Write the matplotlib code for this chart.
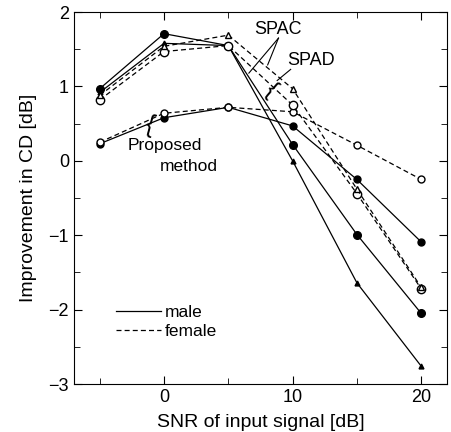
import matplotlib
matplotlib.use("Agg")
import matplotlib.pyplot as plt
from matplotlib.ticker import MultipleLocator

plt.rcParams['font.family'] = ['Liberation Sans', 'DejaVu Sans']

snr = [-5, 0, 5, 10, 15, 20]

# male (solid)
prop_male = [0.23, 0.58, 0.72, 0.47, -0.25, -1.09]
spa1_male = [0.97, 1.71, 1.55, 0.22, -0.99, -2.05]
spa2_male = [0.92, 1.58, 1.55, 0.00, -1.64, -2.76]
# female (dashed)
prop_female = [0.25, 0.64, 0.72, 0.66, 0.21, -0.25]
spa1_female = [0.82, 1.47, 1.55, 0.75, -0.44, -1.72]
spa2_female = [0.88, 1.54, 1.69, 0.97, -0.38, -1.70]

fig = plt.figure(figsize=(4.51, 4.32), dpi=100)
ax = fig.add_axes([0.164, 0.111, 0.827, 0.861])

lw = 0.9
dash = (0, (4, 2.5))
ax.plot(snr, prop_male, '-', color='k', lw=lw, marker='o', ms=5, mfc='k')
ax.plot(snr, spa1_male, '-', color='k', lw=lw, marker='o', ms=5.5, mfc='k')
ax.plot(snr, spa2_male, '-', color='k', lw=lw, marker='^', ms=3.5, mfc='k')
ax.plot(snr, prop_female, linestyle=dash, color='k', lw=lw, marker='o', ms=5, mfc='white')
ax.plot(snr, spa1_female, linestyle=dash, color='k', lw=lw, marker='o', ms=6, mfc='white')
ax.plot(snr, spa2_female, linestyle=dash, color='k', lw=lw, marker='^', ms=5, mfc='white')

# legend
ax.plot([], [], '-', color='k', lw=lw, label='male')
ax.plot([], [], linestyle=dash, color='k', lw=lw, label='female')
handles, labels = ax.get_legend_handles_labels()
ax.legend(handles, labels, loc='upper left', bbox_to_anchor=(0.07, 0.255),
          frameon=False, fontsize=12.5, handlelength=2.6, handletextpad=0.2,
          labelspacing=0.25)

# annotations
ax.text(7.0, 1.71, 'SPAC', fontsize=13)
ax.plot([8.9, 6.6], [1.65, 1.18], color='k', lw=0.8)
ax.plot([8.9, 8.06], [1.65, 1.29], color='k', lw=0.8)
ax.text(9.6, 1.35, 'SPAD', fontsize=13, va='center')
ax.plot([9.85, 8.8], [1.23, 1.08], color='k', lw=0.8)
ax.text(8.3, 0.95, '{', fontsize=17, rotation=-40, ha='center', va='center')
ax.text(-1.1, 0.48, '{', fontsize=18, rotation=-15, ha='center', va='center')
ax.text(-2.8, 0.2, 'Proposed', fontsize=12.5, va='center')
ax.text(-0.3, -0.08, 'method', fontsize=12.5, va='center')

ax.set_xlim(-7, 22)
ax.set_ylim(-3, 2)
ax.set_xticks([0, 10, 20])
ax.xaxis.set_minor_locator(MultipleLocator(5))
ax.set_yticks([-3, -2, -1, 0, 1, 2])
ax.yaxis.set_minor_locator(MultipleLocator(0.5))
ax.tick_params(which='both', direction='in', top=True, right=True, labelsize=13)
ax.tick_params(which='major', length=6)
ax.tick_params(which='minor', length=4)
ax.set_xlabel('SNR of input signal [dB]', fontsize=14, labelpad=6)
ax.set_ylabel('Improvement in CD [dB]', fontsize=14, labelpad=8)

fig.savefig('out.png', dpi=100)
